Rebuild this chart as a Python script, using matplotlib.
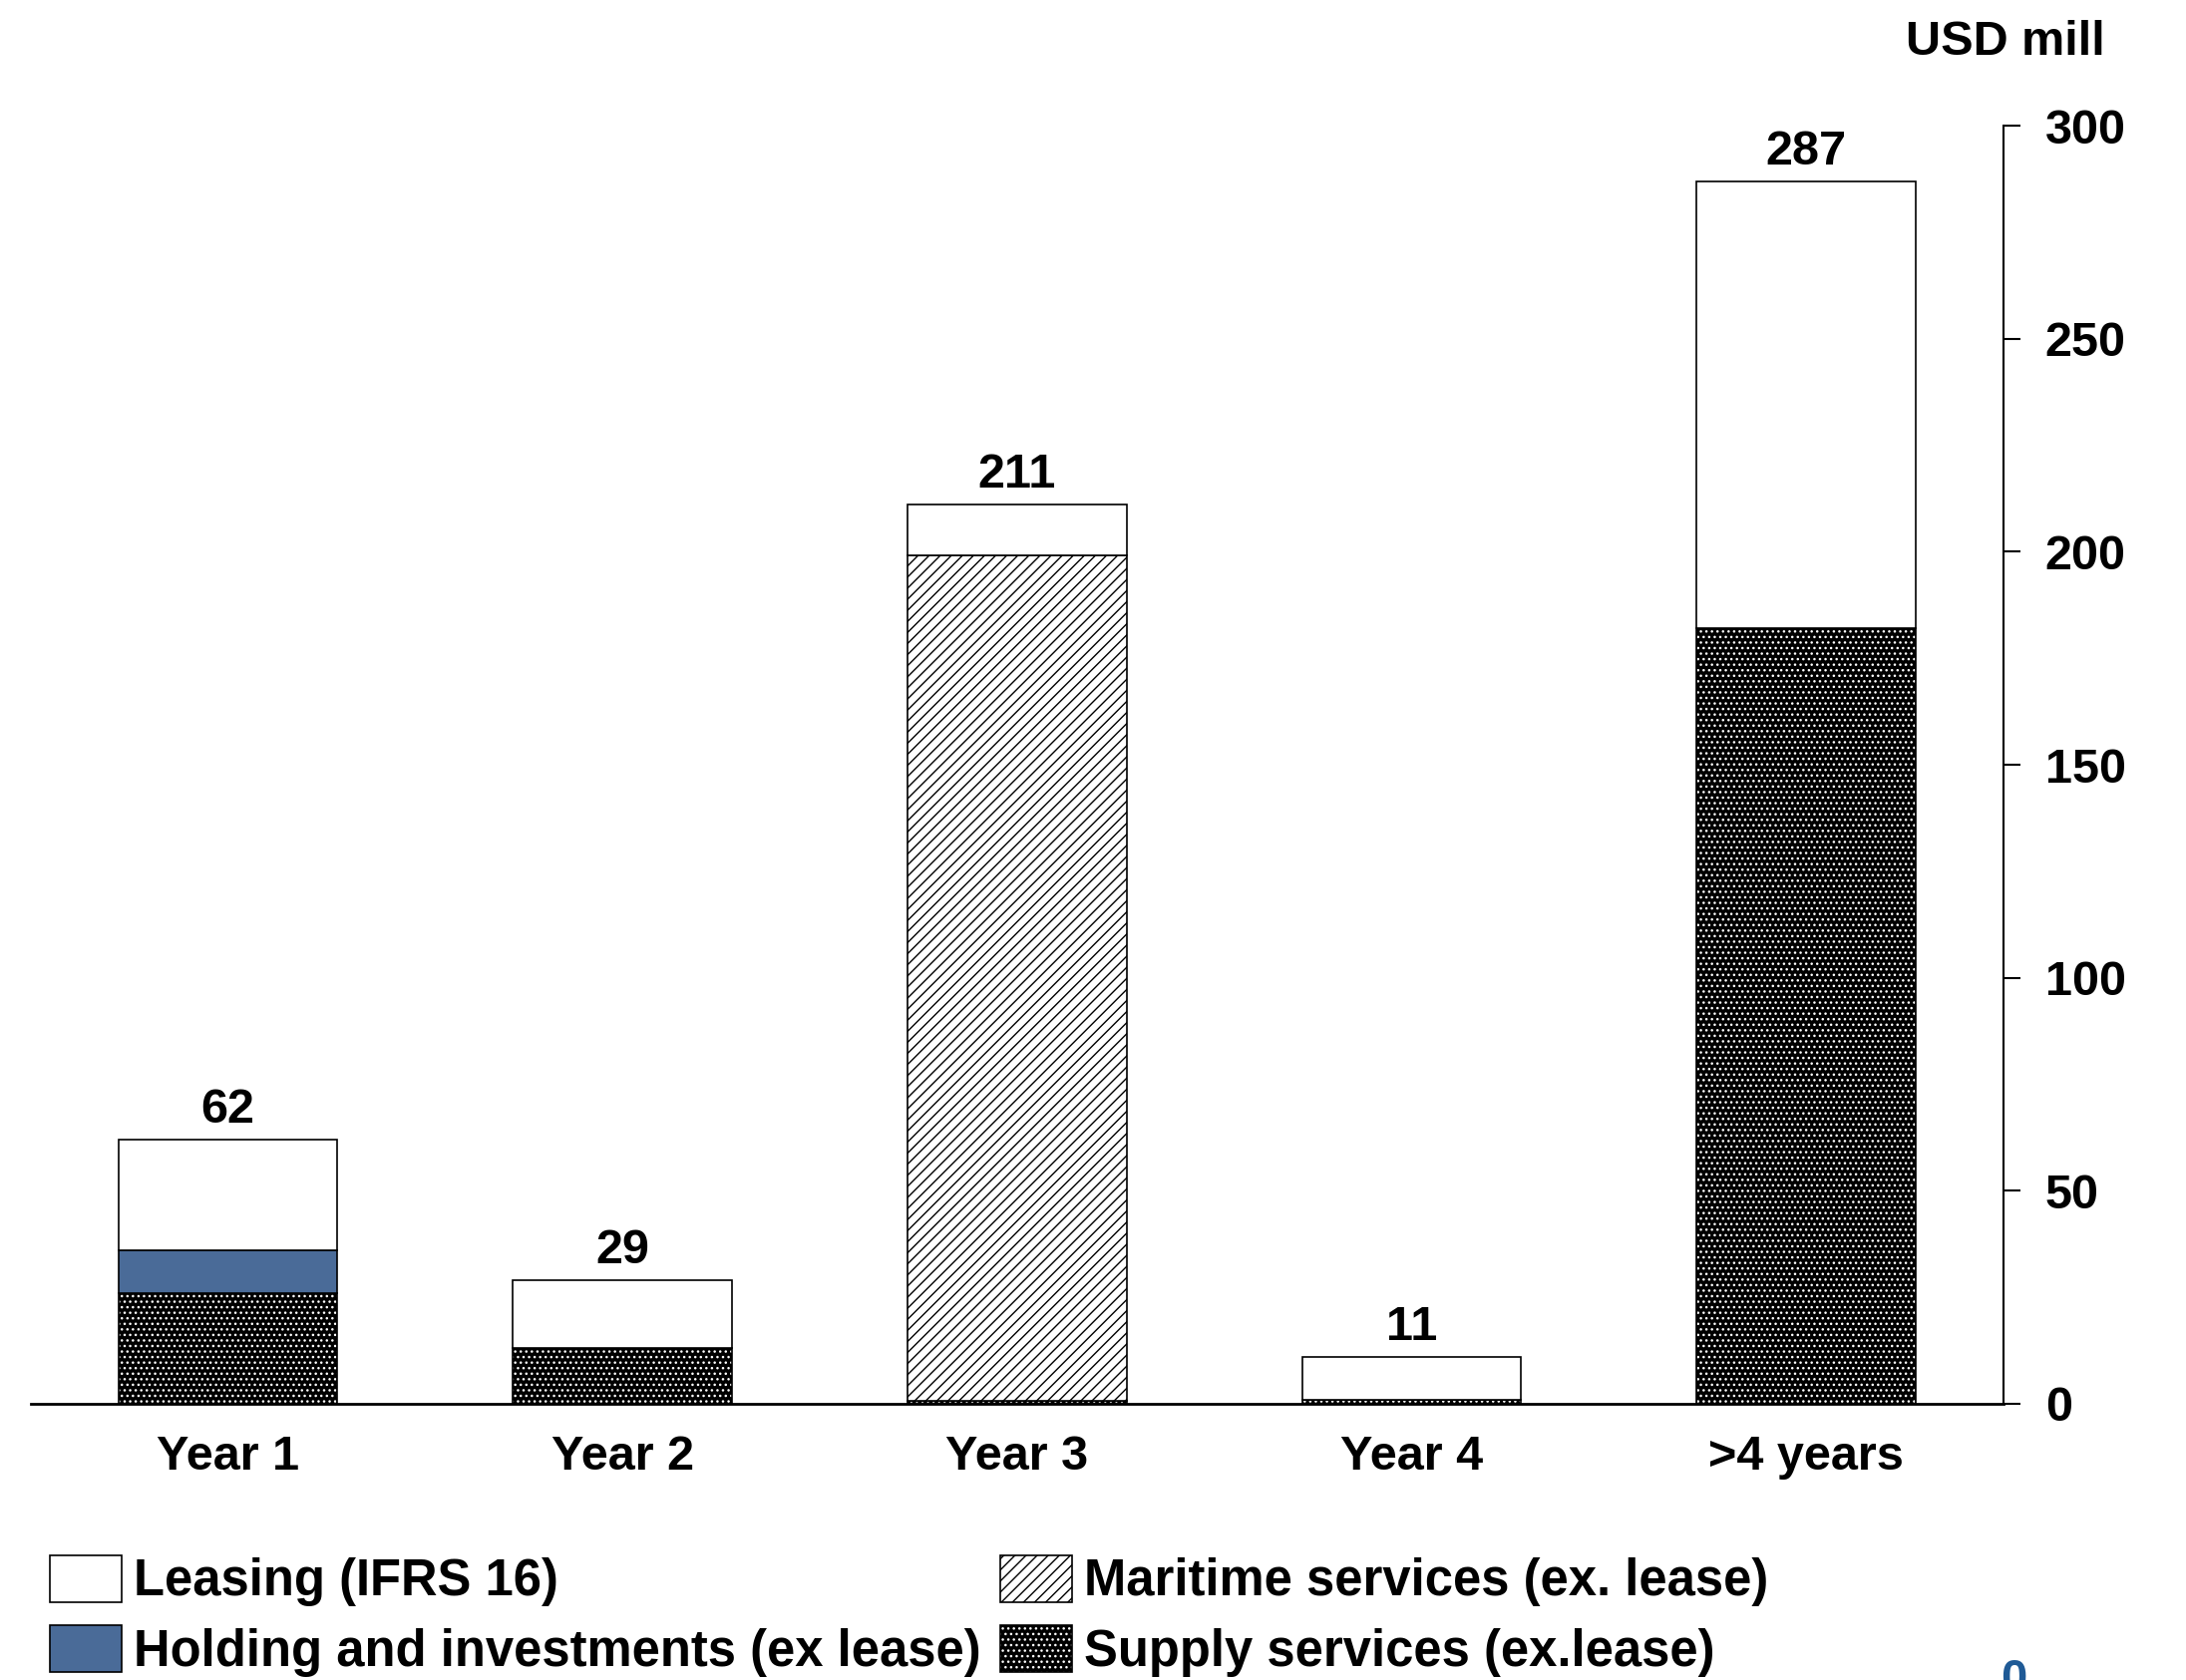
import numpy as np
import matplotlib.pyplot as plt
from matplotlib.patches import Patch

plt.rcParams['font.family'] = ['Liberation Sans', 'DejaVu Sans']
plt.rcParams['font.weight'] = 'bold'
plt.rcParams['hatch.linewidth'] = 1.0

# Contract backlog by maturity, USD mill
periods = ['Year 1', 'Year 2', 'Year 3', 'Year 4', '>4 years']
supply = [26, 13, 0.6, 1, 182]
maritime = [0, 0, 198.5, 0, 0]
holding = [10, 0, 0, 0, 0]
leasing = [26, 16, 11.9, 10, 105]
yticks = [0, 50, 100, 150, 200, 250, 300]

BLUE = '#4a6b98'
DOTS = '...'
LINES = '///'

fig = plt.figure(figsize=(21.92, 16.85), dpi=100)
ax = fig.add_axes([0.014, 0.1644, 0.9025, 0.7608])

x = np.arange(len(periods))
w = 0.555
bottom = np.zeros(len(periods))


def stack(vals, face, hatch=None, hcol='black'):
    global bottom
    vals = np.array(vals, dtype=float)
    if hatch:
        ax.bar(x, vals, w, bottom=bottom, color=face, edgecolor=hcol,
               hatch=hatch, linewidth=0)
        ax.bar(x, vals, w, bottom=bottom, fill=False, edgecolor='black',
               linewidth=1.2)
    else:
        ax.bar(x, vals, w, bottom=bottom, color=face, edgecolor='black',
               linewidth=1.2)
    bottom = bottom + vals


stack(supply, 'black', DOTS, 'white')
stack(maritime, 'white', LINES, 'black')
stack(holding, BLUE)
stack(leasing, 'white')

# totals above bars
for xi, tot in zip(x, bottom):
    ax.annotate(f'{tot:.0f}', (xi, tot), xytext=(0, 5), textcoords='offset points',
                ha='center', va='bottom', fontsize=35, fontweight='bold')

ax.set_xlim(-0.5, 4.5)
ax.set_ylim(0, 300)
ax.set_xticks(x)
ax.set_xticklabels(periods)
ax.set_yticks(yticks)
ax.yaxis.tick_right()
ax.tick_params(axis='x', length=0, pad=22, labelsize=35)
ax.tick_params(axis='y', length=12, width=1.5, pad=18, labelsize=35, direction='out')
for s in ['left', 'top']:
    ax.spines[s].set_visible(False)
ax.spines['right'].set_linewidth(1.5)
ax.spines['bottom'].set_linewidth(2)

fig.text(0.963, 0.975, 'USD mill', ha='right', va='center', fontsize=35,
         fontweight='bold')

handles = [
    Patch(facecolor='white', edgecolor='black', linewidth=1.2),
    Patch(facecolor=BLUE, edgecolor='black', linewidth=1.2),
    (Patch(facecolor='white', edgecolor='black', hatch=LINES, linewidth=0),
     Patch(fill=False, edgecolor='black', linewidth=1.2)),
    (Patch(facecolor='black', edgecolor='white', hatch=DOTS, linewidth=0),
     Patch(fill=False, edgecolor='black', linewidth=1.2)),
]
labels = ['Leasing (IFRS 16)', 'Holding and investments (ex lease)',
          'Maritime services (ex. lease)', 'Supply services (ex.lease)']
fig.legend(handles, labels, ncol=2, loc='lower left',
           bbox_to_anchor=(0.009, -0.016), frameon=False,
           prop={'weight': 'bold', 'size': 36.5},
           handlelength=1.42, handleheight=1.05, handletextpad=0.24,
           columnspacing=0.38, labelspacing=0.36, borderpad=0.1)

fig.text(0.921, 0.0, '0', color='#1f5a96', fontsize=34, fontweight='bold',
         ha='center', va='center')

fig.savefig('out.png', dpi=100)
